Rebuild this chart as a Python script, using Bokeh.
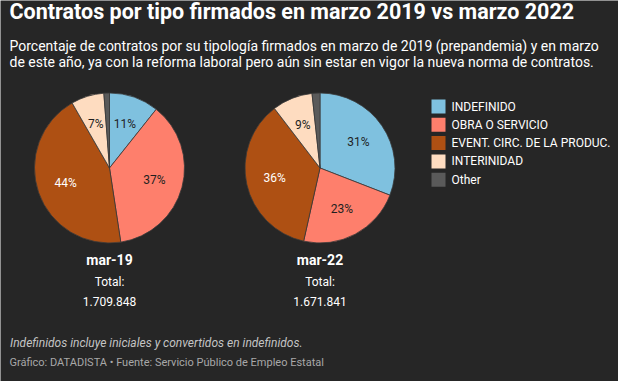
import math
from bokeh.plotting import figure
from bokeh.models import Range1d, Label, ColumnDataSource
from bokeh.embed import file_html
from bokeh.resources import INLINE
from bokeh.core.properties import value

# ---- data ----
categories = ["INDEFINIDO", "OBRA O SERVICIO", "EVENT. CIRC. DE LA PRODUC.", "INTERINIDAD", "Other"]
colors = ["#7fc1df", "#fe7f6c", "#ae5013", "#fedcc0", "#5a5a5a"]
label_colors = ["#1f1f1f", "#1f1f1f", "#ffffff", "#1f1f1f", "#ffffff"]
periods = ["mar-19", "mar-22"]
mar19 = [10.7, 36.9, 44.1, 7.1, 1.2]
mar22 = [30.9, 22.6, 36.1, 8.7, 1.7]
totals = ["1.709.848", "1.671.841"]
series = [mar19, mar22]

title = "Contratos por tipo firmados en marzo 2019 vs marzo 2022"
subtitle = ["Porcentaje de contratos por su tipología firmados en marzo de 2019 (prepandemia) y en marzo",
            "de este año, ya con la reforma laboral pero aún sin estar en vigor la nueva norma de contratos."]
note = "Indefinidos incluye iniciales y convertidos en indefinidos."
source = "Gráfico: DATADISTA • Fuente: Servicio Público de Empleo Estatal"

BG = "#262626"
W, H = 618, 381
FONT = "Roboto"

def fx(X):
    return X

def fy(Y):
    return H - Y

p = figure(width=W, height=H, output_backend="svg", toolbar_location=None,
           x_range=Range1d(0, W), y_range=Range1d(0, H), min_border=0)
p.axis.visible = False
p.grid.visible = False
p.outline_line_color = None
p.background_fill_color = BG
p.border_fill_color = BG

centers = [(109, 167.5), (319.5, 167.5)]
R = 75

for (cx, cy), vals, per, tot in zip(centers, series, periods, totals):
    total = sum(vals)
    starts, ends, lx, ly, ltxt, lcol = [], [], [], [], [], []
    cum = 0.0
    for v, lc in zip(vals, label_colors):
        a0 = math.pi / 2 - 2 * math.pi * cum / total
        cum += v
        a1 = math.pi / 2 - 2 * math.pi * cum / total
        starts.append(a0)
        ends.append(a1)
        if v >= 3:
            mid = (a0 + a1) / 2
            lx.append(fx(cx) + 0.62 * R * math.cos(mid))
            ly.append(fy(cy) + 0.62 * R * math.sin(mid))
            ltxt.append(f"{round(v)}%")
            lcol.append(lc)
    src = ColumnDataSource(dict(start=starts, end=ends, color=colors))
    p.wedge(x=fx(cx), y=fy(cy), radius=R, start_angle="start", end_angle="end",
            direction="clock", fill_color="color", line_color="#3a3a3a",
            line_width=0.8, source=src)
    lsrc = ColumnDataSource(dict(x=lx, y=ly, t=ltxt, c=lcol))
    p.text(x="x", y="y", text="t", text_color="c", source=lsrc,
           text_align="center", text_baseline="middle",
           text_font=value(FONT), text_font_size="12px")
    p.add_layout(Label(x=fx(cx), y=fy(267.5), text=per, text_align="center",
                       text_font=FONT, text_font_size="14px", text_font_style="bold",
                       text_color="#ffffff"))
    p.add_layout(Label(x=fx(cx), y=fy(288.5), text="Total:", text_align="center",
                       text_font=FONT, text_font_size="12px", text_color="#ffffff"))
    p.add_layout(Label(x=fx(cx), y=fy(305), text=tot, text_align="center",
                       text_font=FONT, text_font_size="12px", text_color="#ffffff"))

# legend
ys = [fy(106 + 18.3 * i) for i in range(len(categories))]
p.rect(x=[fx(438)] * len(categories), y=ys, width=14, height=14,
       fill_color=colors, line_color=None)
p.text(x=[fx(451)] * len(categories), y=ys, text=categories, text_color="#ffffff",
       text_baseline="middle", text_align="left",
       text_font=value(FONT), text_font_size="12px")

# titles
p.add_layout(Label(x=fx(9), y=fy(23.6), text=title, text_font=FONT,
                   text_font_size="21.5px", text_font_style="bold", text_color="#ffffff"))
for i, line in enumerate(subtitle):
    p.add_layout(Label(x=fx(9), y=fy(53.5 + 15.5 * i), text=line, text_font=FONT,
                       text_font_size="14px", text_color="#ffffff"))
p.add_layout(Label(x=fx(9.5), y=fy(349), text=note, text_font=FONT,
                   text_font_size="12px", text_font_style="italic", text_color="#c4c4c4"))
p.add_layout(Label(x=fx(9), y=fy(368.7), text=source, text_font=FONT,
                   text_font_size="11px", text_color="#a8a8a8"))

open("out.html", "w").write(file_html(p, INLINE))
